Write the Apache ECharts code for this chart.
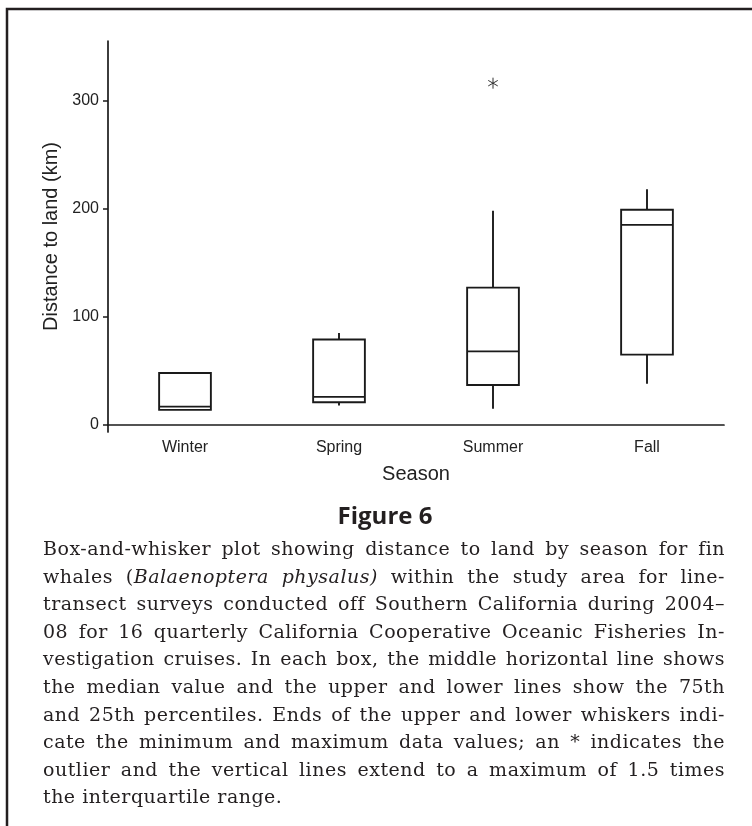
<!DOCTYPE html>
<html>
<head>
<meta charset="utf-8">
<script src="https://cdn.jsdelivr.net/npm/echarts@6/dist/echarts.min.js"></script>
<style>
  html, body { margin: 0; padding: 0; background: #fff; }
  #wrap { position: relative; width: 752px; height: 826px; overflow: hidden; background: #fff; }
  #chart { position: absolute; left: 0; top: 0; width: 752px; height: 826px; }
  #caption { position: absolute; left: 43px; top: 535px; width: 682px;
    font-family: "DejaVu Serif", "Liberation Serif", serif; font-size: 19px; letter-spacing: 0.5px; line-height: 27.6px; color: #231f20; }
  #caption div { text-align: justify; text-align-last: justify; white-space: nowrap; }
  #caption div.last { text-align-last: left; }
</style>
</head>
<body>
<div id="wrap">
  <div id="chart"></div>
  <div id="caption">
    <div>Box-and-whisker plot showing distance to land by season for fin</div>
    <div>whales (<i>Balaenoptera physalus)</i> within the study area for line-</div>
    <div>transect surveys conducted off Southern California during 2004–</div>
    <div>08 for 16 quarterly California Cooperative Oceanic Fisheries In-</div>
    <div>vestigation cruises. In each box, the middle horizontal line shows</div>
    <div>the median value and the upper and lower lines show the 75th</div>
    <div>and 25th percentiles. Ends of the upper and lower whiskers indi-</div>
    <div>cate the minimum and maximum data values; an * indicates the</div>
    <div>outlier and the vertical lines extend to a maximum of 1.5 times</div>
    <div class="last">the interquartile range.</div>
  </div>
</div>
<script>
// ---- data ----
const seasons = ['Winter', 'Spring', 'Summer', 'Fall'];
const whiskerMin = [14, 18, 15, 38];
const q1 = [14, 21, 37, 65];
const median = [17, 26, 68, 185];
const q3 = [48, 79, 127, 199];
const whiskerMax = [48, 85, 198, 218];
const outlierSeason = ['Summer'];
const outlierValue = [316];
const yTicks = [0, 100, 200, 300];

const ink = '#1a1a1a';
const boxData = seasons.map((s, i) => [i, whiskerMin[i], q1[i], median[i], q3[i], whiskerMax[i]]);
const outlierData = outlierSeason.map((s, i) => [seasons.indexOf(s), outlierValue[i]]);

const chart = echarts.init(document.getElementById('chart'), null, { renderer: 'canvas' });

function renderBox(params, api) {
  const x = api.value(0);
  const pMin = api.coord([x, api.value(1)]);
  const pQ1 = api.coord([x, api.value(2)]);
  const pMed = api.coord([x, api.value(3)]);
  const pQ3 = api.coord([x, api.value(4)]);
  const pMax = api.coord([x, api.value(5)]);
  const w = api.size([1, 0])[0] * 0.336;
  const cx = pMed[0];
  const st = { stroke: ink, lineWidth: 1.9, fill: null };
  return {
    type: 'group',
    children: [
      { type: 'line', shape: { x1: cx, y1: pQ3[1], x2: cx, y2: pMax[1] }, style: st },
      { type: 'line', shape: { x1: cx, y1: pQ1[1], x2: cx, y2: pMin[1] }, style: st },
      { type: 'rect', shape: { x: cx - w / 2, y: pQ3[1], width: w, height: pQ1[1] - pQ3[1] }, style: { stroke: ink, lineWidth: 1.9, fill: '#fff' } },
      { type: 'line', shape: { x1: cx - w / 2, y1: pMed[1], x2: cx + w / 2, y2: pMed[1] }, style: st }
    ]
  };
}

function renderStar(params, api) {
  const p = api.coord([api.value(0), api.value(1)]);
  const r = 5.5;
  const st = { stroke: '#333', lineWidth: 1, fill: null };
  const a = Math.cos(Math.PI / 6) * r, b = Math.sin(Math.PI / 6) * r;
  return {
    type: 'group',
    children: [
      { type: 'line', shape: { x1: p[0], y1: p[1] - r, x2: p[0], y2: p[1] + r }, style: st },
      { type: 'line', shape: { x1: p[0] - a, y1: p[1] - b, x2: p[0] + a, y2: p[1] + b }, style: st },
      { type: 'line', shape: { x1: p[0] - a, y1: p[1] + b, x2: p[0] + a, y2: p[1] - b }, style: st }
    ]
  };
}

chart.setOption({
  animation: false,
  backgroundColor: '#fff',
  grid: { left: 108, top: 41, width: 616, height: 391, containLabel: false },
  xAxis: {
    type: 'category',
    data: seasons,
    boundaryGap: true,
    name: 'Season',
    nameLocation: 'middle',
    nameGap: 32,
    nameTextStyle: { fontSize: 20, color: '#222', fontFamily: 'Liberation Sans' },
    axisLine: { lineStyle: { color: ink, width: 1.7 } },
    axisTick: { alignWithLabel: true, length: 5, lineStyle: { color: ink, width: 1.5 } },
    axisLabel: { fontSize: 16, color: '#222', margin: 8, fontFamily: 'Liberation Sans' },
    splitLine: { show: false }
  },
  yAxis: {
    type: 'value',
    min: -6.5,
    max: 355,
    name: 'Distance to land (km)',
    nameLocation: 'middle',
    nameRotate: 90,
    nameGap: 47,
    nameTextStyle: { fontSize: 20, color: '#222', fontFamily: 'Liberation Sans' },
    axisLine: { show: true, lineStyle: { color: ink, width: 1.7 } },
    axisTick: { show: true, length: 5, customValues: yTicks, lineStyle: { color: ink, width: 1.5 } },
    axisLabel: { fontSize: 16, color: '#222', margin: 9, fontFamily: 'Liberation Sans', customValues: yTicks },
    splitLine: { show: false }
  },
  graphic: [
    { type: 'rect', silent: true, shape: { x: 7, y: 9, width: 820, height: 900 }, style: { fill: null, stroke: '#231f20', lineWidth: 2.5 } },
    { type: 'text', silent: true, x: 385, y: 517, style: { text: 'Figure 6', font: 'bold 24px "Open Sans", "Noto Sans", sans-serif', fill: '#231f20', align: 'center', verticalAlign: 'middle' } }
  ],
  series: [
    { type: 'custom', name: 'box', renderItem: renderBox, data: boxData, encode: { x: 0, y: [1, 2, 3, 4, 5] }, z: 3 },
    { type: 'custom', name: 'outlier', renderItem: renderStar, data: outlierData, encode: { x: 0, y: 1 }, z: 3 }
  ]
});
</script>
</body>
</html>
